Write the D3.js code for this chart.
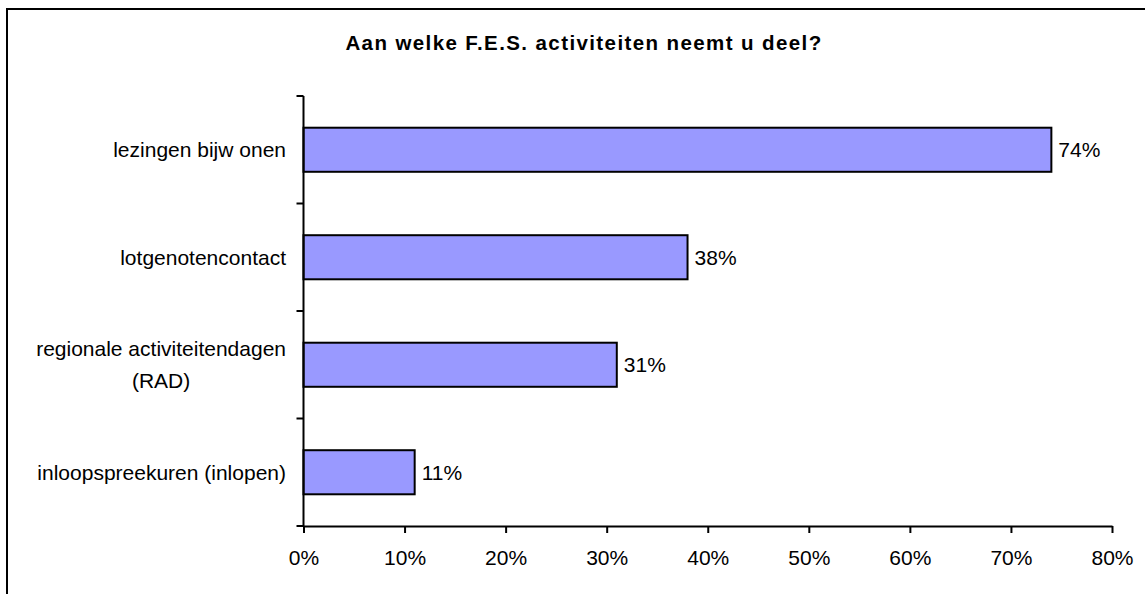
<!DOCTYPE html>
<html>
<head>
<meta charset="utf-8">
<script src="https://cdn.jsdelivr.net/npm/d3@7"></script>
<style>
  body { margin: 0; background: #fff; }
  svg { display: block; }
</style>
</head>
<body>
<div id="chart"></div>
<script>
// data
var categories = ["lezingen bijw onen", "lotgenotencontact", "regionale activiteitendagen|(RAD)", "inloopspreekuren (inlopen)"];
var values = [74, 38, 31, 11];
var tickValues = [0, 10, 20, 30, 40, 50, 60, 70, 80];
var title = "Aan welke F.E.S. activiteiten neemt u deel?";

var W = 1145, H = 594;
var margin = {top: 96, left: 303.5, right: 1145 - 1112, bottom: 594 - 526};
var width = W - margin.left - margin.right,
    height = H - margin.top - margin.bottom;
var fontSize = "21px";

var svg = d3.select("#chart").append("svg")
    .attr("width", W).attr("height", H)
    .style("font-family", "Arial, 'Liberation Sans', sans-serif");

// outer frame
svg.append("rect")
    .attr("x", 7).attr("y", 9)
    .attr("width", W + 10).attr("height", H + 10)
    .attr("fill", "none").attr("stroke", "#000").attr("stroke-width", 2);

// title
svg.append("text")
    .attr("x", 584).attr("y", 50)
    .attr("text-anchor", "middle")
    .attr("font-size", "20.5px").attr("font-weight", "bold")
    .attr("letter-spacing", "1.4px")
    .text(title);

var g = svg.append("g").attr("transform", "translate(" + margin.left + "," + margin.top + ")");

var x = d3.scaleLinear().domain([0, 80]).range([0, width]);
var y = d3.scaleBand().domain(categories).range([0, height]).paddingInner(0.59).paddingOuter(0.295);
var yCat = d3.scaleBand().domain(categories).range([0, height]);

// bars
g.selectAll("rect.bar").data(categories).enter()
  .append("rect").attr("class", "bar")
    .attr("x", 0)
    .attr("y", function(d) { return y(d); })
    .attr("width", function(d, i) { return x(values[i]); })
    .attr("height", y.bandwidth())
    .attr("fill", "#9999FF")
    .attr("stroke", "#000").attr("stroke-width", 2);

// value labels
g.selectAll("text.val").data(categories).enter()
  .append("text").attr("class", "val")
    .attr("x", function(d, i) { return x(values[i]) + 7; })
    .attr("y", function(d) { return y(d) + y.bandwidth() / 2; })
    .attr("dy", "0.35em")
    .attr("font-size", fontSize)
    .text(function(d, i) { return values[i] + "%"; });

// x axis
var xAxis = g.append("g").attr("transform", "translate(0," + height + ")")
    .call(d3.axisBottom(x).tickValues(tickValues).tickFormat(function(d) { return d + "%"; })
        .tickSize(7).tickSizeOuter(0));
xAxis.select(".domain").attr("stroke-width", 2);
xAxis.selectAll(".tick line").attr("stroke-width", 2);
xAxis.selectAll(".tick text")
    .attr("y", 39).attr("dy", 0)
    .attr("font-size", fontSize)
    .attr("font-family", "Arial, 'Liberation Sans', sans-serif")
    .attr("fill", "#000");

// y axis line + ticks at category boundaries
g.append("line")
    .attr("x1", 0).attr("x2", 0).attr("y1", 0).attr("y2", height)
    .attr("stroke", "#000").attr("stroke-width", 2);
var bounds = categories.map(function(d) { return yCat(d); }).concat([height]);
g.selectAll("line.ytick").data(bounds).enter()
  .append("line").attr("class", "ytick")
    .attr("x1", -7).attr("x2", 0)
    .attr("y1", function(d) { return d; }).attr("y2", function(d) { return d; })
    .attr("stroke", "#000").attr("stroke-width", 2);

// category labels (right aligned block, multi-line centred)
var labelRight = 286 - margin.left;
categories.forEach(function(c) {
  var lines = c.split("|");
  var cy = yCat(c) + yCat.bandwidth() / 2;
  var lh = 32;
  var t = g.append("text")
      .attr("font-size", fontSize)
      .attr("text-anchor", "middle");
  lines.forEach(function(l, i) {
    t.append("tspan")
      .attr("y", cy + (i - (lines.length - 1) / 2) * lh)
      .attr("dy", "0.35em")
      .text(l);
  });
  var maxW = 0;
  t.selectAll("tspan").each(function() { maxW = Math.max(maxW, this.getComputedTextLength()); });
  t.selectAll("tspan").attr("x", labelRight - maxW / 2);
});
</script>
</body>
</html>
